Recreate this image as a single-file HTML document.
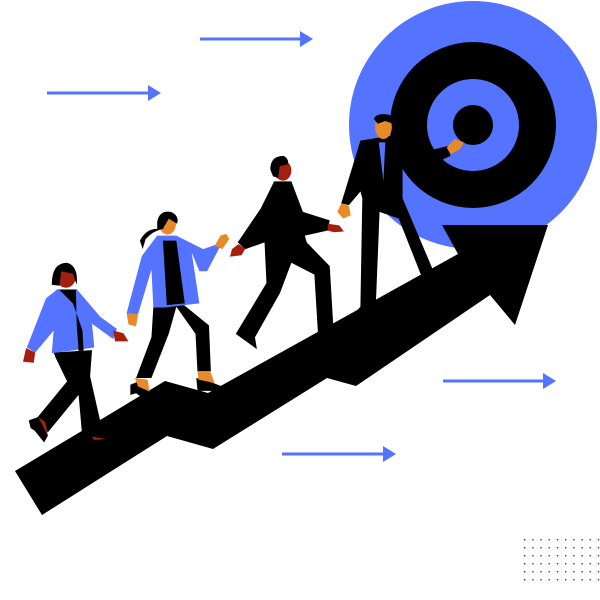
<!DOCTYPE html>
<html><head><meta charset="utf-8"><style>html,body{margin:0;padding:0;background:#fff;width:600px;height:600px;overflow:hidden}</style></head>
<body>
<svg width="600" height="600" viewBox="0 0 600 600" xmlns="http://www.w3.org/2000/svg">
<defs><pattern id="d" x="524" y="539" width="8.2" height="8" patternUnits="userSpaceOnUse"><rect width="1.4" height="1.4" fill="#444"/></pattern></defs>
<rect x="523" y="538" width="80" height="46" fill="url(#d)"/>
<circle cx="473" cy="125" r="124" fill="#5473ff"/>
<circle cx="473" cy="125" r="83" fill="#000"/>
<circle cx="473" cy="125" r="46" fill="#5473ff"/>
<circle cx="473" cy="125" r="20" fill="#000"/>
<g stroke="#5473ff" stroke-width="3" fill="#5473ff">
<line x1="200" y1="39" x2="302" y2="39"/><polygon points="300,31 313,39 300,47" stroke="none"/>
<line x1="47" y1="93" x2="150" y2="93"/><polygon points="148,85 161,93 148,101" stroke="none"/>
<line x1="443" y1="381" x2="545" y2="381"/><polygon points="543,373 556,381 543,389" stroke="none"/>
<line x1="282" y1="454" x2="385" y2="454"/><polygon points="383,446 396,454 383,462" stroke="none"/>
</g>
<polygon fill="#000" points="15,471 165,381 208,393 458,254 442,225 548,225 515,325 490,295 356,386 327,378 213,449 167,436 42,515"/>
<g transform="translate(0,100) scale(0.3834,0.339)">
<!-- figure 4 -->
<path fill="#000" d="M940,120 L1020,105 L1100,155 L1170,135 L1175,165 L1110,200 L1050,200 L1050,290 L1140,530 L1165,565 L1150,572 L1110,550 L1040,350 L990,330 L980,610 L920,655 L915,640 L940,610 L945,290 L940,270 L910,310 L890,305 Z"/>
<ellipse cx="1000" cy="80" rx="22" ry="35" fill="#e8892a"/>
<path fill="#000" d="M975,55 Q985,35 1020,45 L1025,70 L1005,62 L985,70 Z"/>
<polygon fill="#5473ff" points="988,125 1005,125 1000,240"/>
<path fill="#e8892a" d="M1165,140 L1185,115 L1210,125 L1200,145 L1175,160 Z"/>
<path fill="#e8892a" d="M890,305 L910,312 L915,340 L895,350 L880,330 Z"/>
<!-- figure 3 -->
<path fill="#000" d="M715,240 L760,240 L790,330 L860,355 L855,385 L795,400 L800,420 L860,490 L870,680 L895,695 L830,700 L820,515 L760,480 L730,570 L665,700 L670,735 L615,690 L695,540 L690,420 L640,440 L620,420 L680,320 Z"/>
<ellipse cx="738" cy="208" rx="22" ry="30" fill="#a3200f"/>
<path fill="#000" d="M705,205 Q705,165 740,165 Q755,175 750,190 L730,195 L725,230 L712,225 Z"/>
<path fill="#a3200f" d="M622,425 L640,438 L630,458 L600,462 L605,440 Z"/>
<path fill="#a3200f" d="M855,365 L885,370 L897,388 L870,390 L855,385 Z"/>
<!-- figure 2 -->
<path fill="#000" d="M400,610 L480,605 L545,665 L550,800 L515,800 L510,690 L460,610 L440,690 L395,820 L355,820 L395,700 Z"/>
<path fill="#000" d="M340,840 L372,825 L395,880 L388,892 L355,865 L340,870 Z"/>
<path fill="#e8892a" d="M352,820 L385,825 L390,860 L360,845 Z"/>
<path fill="#000" d="M512,820 L545,830 L580,845 L580,858 L520,858 L515,855 Z"/>
<path fill="#e8892a" d="M515,800 L548,800 L560,835 L518,825 Z"/>
<path fill="#5473ff" d="M410,400 L460,400 L530,440 L580,420 L540,505 L520,505 L500,450 L520,600 L480,605 L430,612 L400,612 L395,500 L360,632 L330,630 L370,460 Z"/>
<polygon fill="#000" points="425,415 460,415 482,600 435,605"/>
<ellipse cx="437" cy="365" rx="22" ry="32" fill="#e8892a"/>
<path fill="#000" d="M410,360 Q415,325 445,330 Q468,340 462,365 L440,350 L425,380 Q400,385 380,410 L372,440 L365,415 Q380,380 410,380 Z"/>
<path fill="#e8892a" d="M560,430 L575,400 L590,395 L598,410 L580,440 Z"/>
<path fill="#e8892a" d="M330,628 L360,632 L355,668 L335,662 Z"/>
<!-- figure 1 -->
<path fill="#000" d="M140,745 L240,738 L235,815 L270,990 L215,998 L205,870 L125,980 L95,940 L175,830 L145,760 Z"/>
<path fill="#000" d="M75,945 L100,935 L125,990 L115,1010 L90,975 L80,968 Z"/>
<path fill="#a3200f" d="M100,935 L118,950 L125,990 Z"/>
<path fill="#000" d="M212,990 L250,990 L285,1003 L285,1020 L215,1025 Z"/>
<path fill="#a3200f" d="M240,993 L278,1000 L245,1003 Z"/>
<path fill="#5473ff" d="M150,558 L200,558 L262,640 L305,675 L295,705 L240,660 L246,730 L135,747 L140,680 L92,745 L70,730 L120,585 Z"/>
<path fill="#000" d="M155,560 L198,560 L200,660 L205,740 L218,740 L215,680 L200,630 L190,600 Z"/>
<ellipse cx="172" cy="520" rx="26" ry="34" fill="#a3200f"/>
<path fill="#000" d="M135,545 Q135,480 175,480 Q205,490 200,545 L190,512 L160,505 L155,548 Z"/>
<path fill="#a3200f" d="M295,680 L322,688 L335,712 L300,712 Z"/>
<path fill="#a3200f" d="M68,732 L92,745 L88,775 L60,772 Z"/>
</g>
</svg>
</body></html>
